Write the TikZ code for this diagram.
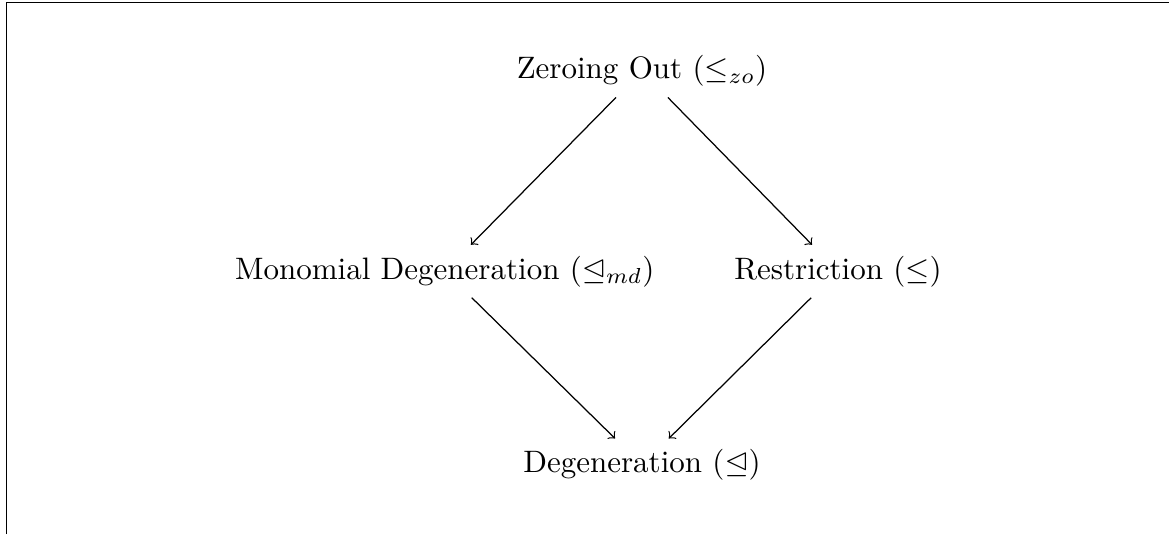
\documentclass[tikz,border=0pt]{standalone}
\usepackage{amssymb}
\begin{document}
\begin{tikzpicture}[x=1pt,y=1pt,
  lbl/.style={inner sep=3.333pt},
  arr/.style={->}]
\useasboundingbox (0,0) rectangle (377.1,172.3);
\coordinate (fb) at (2.03,0);
\coordinate (ftl) at (2.03,171.4);
\coordinate (fr) at (377.1,171.4);
\draw (fb) -- (ftl) -- (fr);
\node[lbl] (zo) at (207.1,149.4) {Zeroing Out ($\leq_{zo}$)};
\node[lbl] (md) at (143.5,84.8) {Monomial Degeneration ($\trianglelefteq_{md}$)};
\node[lbl] (re) at (270.3,84.8) {Restriction ($\leq$)};
\node[lbl] (de) at (207.1,22.3) {Degeneration ($\trianglelefteq$)};
\draw[arr] (zo) -- (md);
\draw[arr] (zo) -- (re);
\draw[arr] (md) -- (de);
\draw[arr] (re) -- (de);
\end{tikzpicture}
\end{document}
